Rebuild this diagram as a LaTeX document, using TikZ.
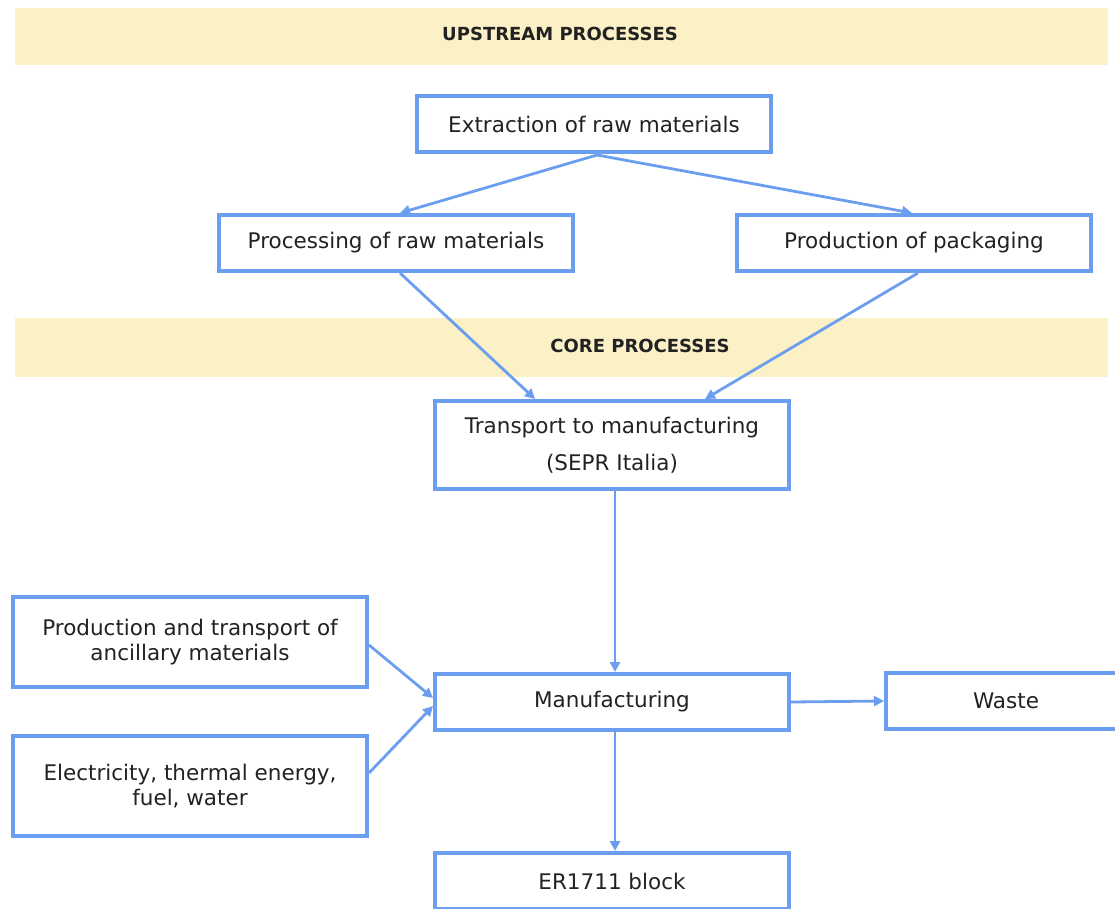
\documentclass[tikz,border=0pt]{standalone}
\usepackage{fontspec}
\setmainfont{DejaVu Sans}
\usetikzlibrary{arrows.meta}
\definecolor{boxblue}{HTML}{6C9EF0}
\definecolor{bandyellow}{HTML}{FBF0C6}
\definecolor{txt}{HTML}{222222}
\begin{document}
\begin{tikzpicture}[x=1pt,y=-1pt,
  band/.style={fill=bandyellow,draw=none},
  bandtext/.style={text=txt,font=\fontsize{18}{20}\selectfont\bfseries},
  pbox/.style={draw=boxblue,line width=4pt,fill=white,inner sep=0pt,align=center,text=txt,font=\fontsize{21.5}{25}\selectfont},
  conn/.style={draw=boxblue,line width=2.8pt,-{Triangle[length=10pt,width=10pt]}}]
\useasboundingbox (0,0) rectangle (1115,909);
% bands
\fill[band] (15,8) rectangle (1108,65);
\node[bandtext] (up) at (560,34) {UPSTREAM PROCESSES};
\fill[band] (15,318) rectangle (1108,377);
\node[bandtext] (core) at (640,346) {CORE PROCESSES};
% boxes
\node[pbox,minimum width=354pt,minimum height=56pt] (ext) at (594,124) {Extraction of raw materials};
\node[pbox,minimum width=354pt,minimum height=56pt] (proc) at (396,243) {Processing of raw materials};
\node[pbox,minimum width=354pt,minimum height=56pt] (pack) at (914,243) {Production of packaging};
\node[pbox,minimum width=354pt,minimum height=88pt] (trans) at (612,445) {Transport to manufacturing\\[12pt](SEPR Italia)};
\node[pbox,minimum width=354pt,minimum height=90pt] (anc) at (190,642) {Production and transport of\\ancillary materials};
\node[pbox,minimum width=354pt,minimum height=100pt] (elec) at (190,786) {Electricity, thermal energy,\\fuel, water};
\node[pbox,minimum width=354pt,minimum height=56pt] (man) at (612,702) {Manufacturing};
\node[pbox,minimum width=240pt,minimum height=56pt] (waste) at (1006,701) {Waste};
\node[pbox,minimum width=354pt,minimum height=56pt] (er) at (612,881) {ER1711 block};
% connectors
\coordinate (extb) at (597,155);
\draw[conn] (extb) -- (proc.north -| 400,0);
\draw[conn] (extb) -- (pack.north -| 912,0);
\draw[conn] (proc.south -| 400,0) -- (trans.north -| 535,0);
\draw[conn] (pack.south -| 918,0) -- (trans.north -| 705,0);
\draw[conn] (trans.south -| 615,0) -- (man.north -| 615,0);
\draw[conn] (anc.east |- 0,645) -- (man.west |- 0,698);
\draw[conn] (elec.east |- 0,773) -- (man.west |- 0,706);
\draw[conn] (man.east) -- (waste.west);
\draw[conn] (man.south -| 615,0) -- (er.north -| 615,0);
\end{tikzpicture}
\end{document}
